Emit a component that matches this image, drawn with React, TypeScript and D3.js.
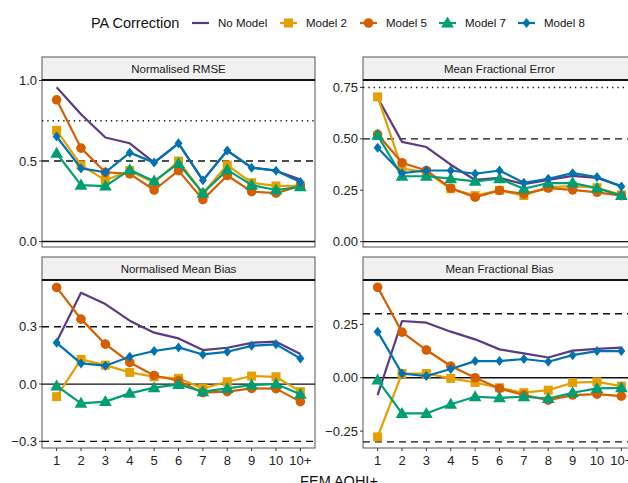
import * as d3 from "d3";

const categories = ["1", "2", "3", "4", "5", "6", "7", "8", "9", "10", "10+"];
const seriesNames = ["No Model", "Model 2", "Model 5", "Model 7", "Model 8"];
const colors = ["#5b3a80", "#E69F00", "#D55E00", "#009E73", "#0072B2"];

// Normalised RMSE
const nrmseNoModel = [0.958, 0.79, 0.646, 0.61, 0.49, 0.61, 0.38, 0.565, 0.46, 0.44, 0.385];
const nrmseModel2 = [0.69, 0.475, 0.38, 0.44, 0.365, 0.5, 0.3, 0.475, 0.365, 0.345, 0.345];
const nrmseModel5 = [0.88, 0.58, 0.43, 0.42, 0.32, 0.44, 0.26, 0.41, 0.31, 0.3, 0.345];
const nrmseModel7 = [0.548, 0.35, 0.344, 0.445, 0.375, 0.485, 0.3, 0.445, 0.35, 0.32, 0.34];
const nrmseModel8 = [0.652, 0.454, 0.43, 0.552, 0.49, 0.61, 0.38, 0.565, 0.458, 0.44, 0.37];

// Mean Fractional Error
const mfeNoModel = [0.7, 0.485, 0.46, 0.374, 0.3, 0.31, 0.28, 0.3, 0.32, 0.31, 0.27];
const mfeModel2 = [0.704, 0.355, 0.338, 0.257, 0.224, 0.25, 0.224, 0.265, 0.27, 0.262, 0.228];
const mfeModel5 = [0.522, 0.384, 0.346, 0.26, 0.216, 0.249, 0.232, 0.26, 0.252, 0.24, 0.224];
const mfeModel7 = [0.517, 0.318, 0.318, 0.306, 0.293, 0.306, 0.257, 0.285, 0.285, 0.26, 0.224];
const mfeModel8 = [0.457, 0.333, 0.346, 0.346, 0.33, 0.346, 0.286, 0.306, 0.333, 0.314, 0.268];

// Normalised Mean Bias
const nmbNoModel = [0.222, 0.478, 0.419, 0.332, 0.269, 0.239, 0.178, 0.19, 0.216, 0.222, 0.157];
const nmbModel2 = [-0.066, 0.129, 0.099, 0.061, 0.038, 0.03, -0.023, 0.012, 0.042, 0.038, -0.04];
const nmbModel5 = [0.506, 0.34, 0.209, 0.113, 0.045, 0.017, -0.045, -0.04, -0.023, -0.024, -0.092];
const nmbModel7 = [-0.01, -0.101, -0.092, -0.049, -0.019, -0.002, -0.04, -0.023, -0.005, 0.0, -0.054];
const nmbModel8 = [0.216, 0.108, 0.096, 0.143, 0.173, 0.192, 0.155, 0.169, 0.2, 0.208, 0.134];

// Mean Fractional Bias
const mfbNoModel = [-0.081, 0.266, 0.258, 0.216, 0.18, 0.133, 0.114, 0.095, 0.127, 0.135, 0.141];
const mfbModel2 = [-0.277, 0.02, 0.02, -0.003, -0.022, -0.047, -0.07, -0.058, -0.023, -0.019, -0.039];
const mfbModel5 = [0.424, 0.214, 0.13, 0.055, 0.0, -0.05, -0.081, -0.105, -0.081, -0.077, -0.086];
const mfbModel7 = [-0.011, -0.167, -0.167, -0.124, -0.089, -0.094, -0.089, -0.097, -0.07, -0.05, -0.047];
const mfbModel8 = [0.216, 0.02, 0.008, 0.041, 0.078, 0.078, 0.088, 0.075, 0.106, 0.125, 0.125];

const panels = [
  {
    title: "Normalised RMSE",
    series: [nrmseNoModel, nrmseModel2, nrmseModel5, nrmseModel7, nrmseModel8],
    ticks: [0, 0.5, 1.0],
    fmt: ".1f",
    domain: [-0.034, 1.003],
    solid: [0],
    dashed: [0.5],
    dotted: [0.75],
    x0: 42, top: 57, stripH: 23, bottom: 247, xAxis: false,
  },
  {
    title: "Mean Fractional Error",
    series: [mfeNoModel, mfeModel2, mfeModel5, mfeModel7, mfeModel8],
    ticks: [0, 0.25, 0.5, 0.75],
    fmt: ".2f",
    domain: [-0.026, 0.786],
    solid: [0],
    dashed: [0.5],
    dotted: [0.75],
    x0: 363, top: 57, stripH: 23, bottom: 247, xAxis: false,
  },
  {
    title: "Normalised Mean Bias",
    series: [nmbNoModel, nmbModel2, nmbModel5, nmbModel7, nmbModel8],
    ticks: [-0.3, 0, 0.3],
    fmt: ".1f",
    domain: [-0.335, 0.545],
    solid: [0],
    dashed: [-0.3, 0.3],
    dotted: [],
    x0: 42, top: 257, stripH: 23, bottom: 448, xAxis: true,
  },
  {
    title: "Mean Fractional Bias",
    series: [mfbNoModel, mfbModel2, mfbModel5, mfbModel7, mfbModel8],
    ticks: [-0.25, 0, 0.25],
    fmt: ".2f",
    domain: [-0.329, 0.458],
    solid: [0],
    dashed: [-0.3, 0.3],
    dotted: [],
    x0: 363, top: 257, stripH: 23, bottom: 448, xAxis: true,
  },
];

const panelW = 273;
const font = "'Liberation Sans', Arial, sans-serif";

function Marker({ kind, x, y, color }: { kind: number; x: number; y: number; color: string }) {
  if (kind === 1) return <rect x={x - 4.5} y={y - 4.5} width={9} height={9} fill={color} />;
  if (kind === 2) return <circle cx={x} cy={y} r={4.8} fill={color} />;
  if (kind === 3) {
    const s = d3.symbol(d3.symbolTriangle, 70)()!;
    return <path d={s} transform={`translate(${x},${y + 0.8})`} fill={color} />;
  }
  if (kind === 4) {
    return <path d={`M0,-5L4,0L0,5L-4,0Z`} transform={`translate(${x},${y})`} fill={color} />;
  }
  return null;
}

function Panel({ p }: { p: (typeof panels)[number] }) {
  const plotTop = p.top + p.stripH;
  const x = d3.scalePoint<string>().domain(categories).range([p.x0, p.x0 + panelW]).padding(0.6);
  const y = d3.scaleLinear().domain(p.domain).range([p.bottom, plotTop]);
  const line = d3
    .line<number>()
    .x((_, i) => x(categories[i])!)
    .y((d) => y(d));
  const f = d3.format(p.fmt);
  return (
    <g>
      {/* strip */}
      <rect x={p.x0} y={p.top} width={panelW} height={p.stripH} fill="#f0f0f0" stroke="#555" strokeWidth={1} />
      <text x={p.x0 + panelW / 2} y={p.top + p.stripH / 2 + 4} textAnchor="middle" fontSize={11.5} fill="#1a1a1a" fontFamily={font}>
        {p.title}
      </text>
      <rect x={p.x0} y={plotTop} width={panelW} height={p.bottom - plotTop} fill="white" stroke="#555" strokeWidth={1} />
      <line x1={p.x0} x2={p.x0 + panelW} y1={plotTop} y2={plotTop} stroke="#111" strokeWidth={2} />

      {/* reference lines */}
      {p.solid.map((v) => (
        <line key={"s" + v} x1={p.x0} x2={p.x0 + panelW} y1={y(v)} y2={y(v)} stroke="#111" strokeWidth={1.3} />
      ))}
      {p.dashed.map((v) => (
        <line key={"d" + v} x1={p.x0} x2={p.x0 + panelW} y1={y(v)} y2={y(v)} stroke="#111" strokeWidth={1.3} strokeDasharray="7,5" />
      ))}
      {p.dotted.map((v) => (
        <line key={"o" + v} x1={p.x0} x2={p.x0 + panelW} y1={y(v)} y2={y(v)} stroke="#111" strokeWidth={1.5} strokeDasharray="1.3,4" />
      ))}

      {/* y axis */}
      {p.ticks.map((t) => (
        <g key={t}>
          <line x1={p.x0 - 3} x2={p.x0} y1={y(t)} y2={y(t)} stroke="#333" />
          <text x={p.x0 - 5} y={y(t) + 4.5} textAnchor="end" fontSize={13} fill="#222" fontFamily={font}>
            {f(t)}
          </text>
        </g>
      ))}

      {/* x axis */}
      {p.xAxis &&
        categories.map((c) => (
          <g key={c}>
            <line x1={x(c)} x2={x(c)} y1={p.bottom} y2={p.bottom + 3} stroke="#333" />
            <text x={x(c)} y={p.bottom + 17} textAnchor="middle" fontSize={13} fill="#222" fontFamily={font}>
              {c}
            </text>
          </g>
        ))}

      {/* series */}
      {p.series.map((vals, si) => (
        <g key={si}>
          <path d={line(vals)!} fill="none" stroke={colors[si]} strokeWidth={2.2} strokeLinejoin="round" />
          {si > 0 && vals.map((v, i) => <Marker key={i} kind={si} x={x(categories[i])!} y={y(v)} color={colors[si]} />)}
        </g>
      ))}
    </g>
  );
}

const legendX = [192, 280, 360, 439, 518];

export default function App() {
  return (
    <svg width={628} height={483} style={{ position: "absolute", left: 0, top: 0, background: "white" }}>
      <rect width={628} height={483} fill="white" />
      <text x={91} y={28} fontSize={14.5} fill="#111" fontFamily={font}>
        PA Correction
      </text>
      {seriesNames.map((name, i) => (
        <g key={name}>
          <line x1={legendX[i]} x2={legendX[i] + 17} y1={23} y2={23} stroke={colors[i]} strokeWidth={2.2} />
          <Marker kind={i} x={legendX[i] + 8.5} y={23} color={colors[i]} />
          <text x={legendX[i] + 26} y={27} fontSize={11.5} fill="#111" fontFamily={font}>
            {name}
          </text>
        </g>
      ))}
      {panels.map((p) => (
        <Panel key={p.title} p={p} />
      ))}
      <text x={339} y={486} textAnchor="middle" fontSize={14.5} fill="#111" fontFamily={font}>
        FEM AQHI+
      </text>
    </svg>
  );
}
